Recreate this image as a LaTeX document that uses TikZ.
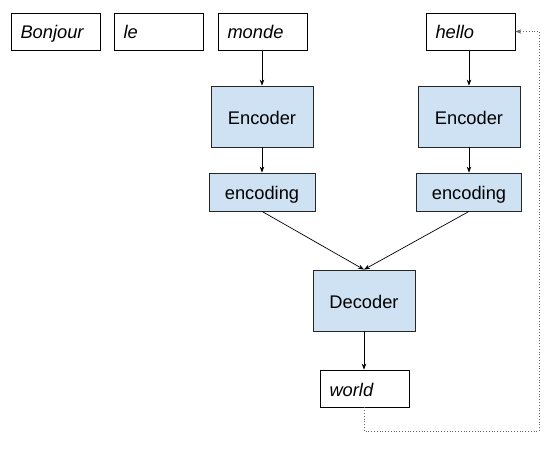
\documentclass[tikz,border=0pt]{standalone}
\usepackage{fontspec}
\setmainfont{Liberation Sans}
\usetikzlibrary{arrows.meta}
\begin{document}
\begin{tikzpicture}[x=1pt,y=-1pt,
  every node/.style={font=\fontsize{18.3}{20}\selectfont, text height=19pt, text depth=4pt},
  wbox/.style={draw=black, line width=0.8pt, fill=white, text width=70pt, inner xsep=9.5pt, inner ysep=0pt, minimum height=37pt, align=left, font=\fontsize{18.3}{20}\selectfont\itshape},
  bbox/.style={draw=black!85, line width=0.8pt, fill=blueish, inner sep=0pt, align=center},
  arr/.style={line width=0.7pt, -{Stealth[length=6pt,width=4.5pt]}},
  fb/.style={draw=black!60, line width=0.8pt, dotted, -{Stealth[length=6pt,width=4.5pt]}}
]
\definecolor{blueish}{HTML}{CFE2F3}
\useasboundingbox (0,0) rectangle (559,452);
\node[wbox] (bonjour) at (55.5,31.5) {Bonjour};
\node[wbox] (le) at (158.5,31.5) {le};
\node[wbox] (monde) at (262.5,31.5) {monde};
\node[wbox] (hello) at (470.5,31.5) {hello};
\node[bbox, minimum width=102pt, minimum height=61pt] (encL) at (262,116.5) {Encoder};
\node[bbox, minimum width=106pt, minimum height=38pt] (ingL) at (262,192) {encoding};
\node[bbox, minimum width=102pt, minimum height=61pt] (encR) at (469,116.5) {Encoder};
\node[bbox, minimum width=105pt, minimum height=38pt] (ingR) at (469,192) {encoding};
\node[bbox, minimum width=102pt, minimum height=61pt] (dec) at (364,300.5) {Decoder};
\node[wbox] (world) at (364.5,388.5) {world};
\coordinate (loop) at (539,431);
\draw[arr] (monde.south -| encL.north) -- (encL.north);
\draw[arr] (encL.south) -- (ingL.north);
\draw[arr] (hello.south -| encR.north) -- (encR.north);
\draw[arr] (encR.south) -- (ingR.north);
\draw[arr] (ingL.south) -- (dec.north);
\draw[arr] (ingR.south) -- (dec.north);
\draw[arr] (dec.south) -- (world.north -| dec.south);
\draw[fb] (world.south -| dec.south) |- (loop) |- (hello.east);
\end{tikzpicture}
\end{document}
